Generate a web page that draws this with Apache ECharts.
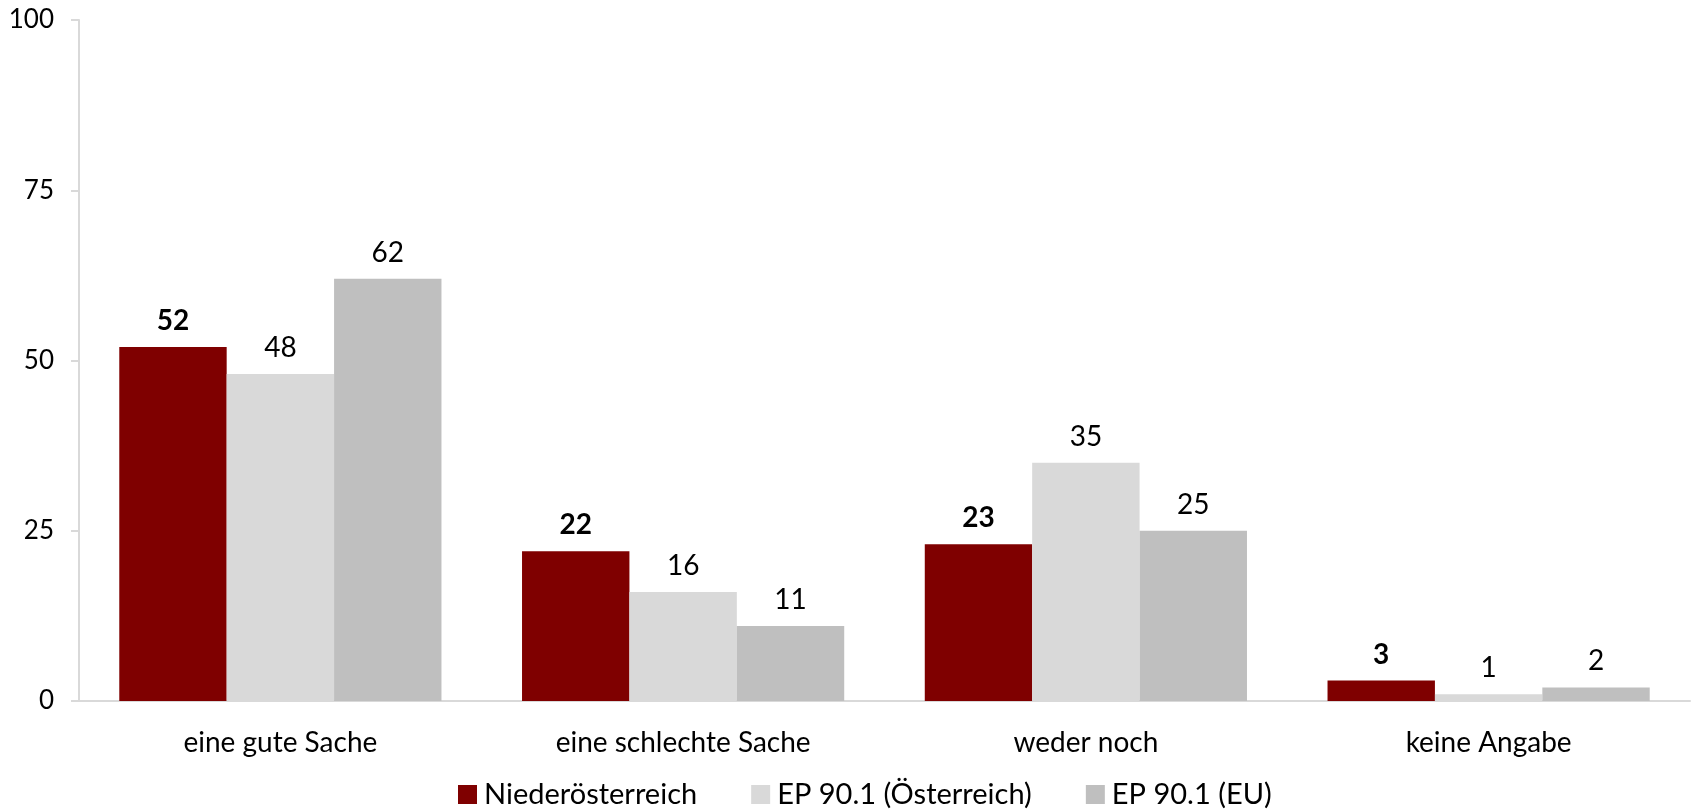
<!DOCTYPE html>
<html><head><meta charset="utf-8">
<script src="https://cdn.jsdelivr.net/npm/echarts@6/dist/echarts.min.js"></script>
<style>html,body{margin:0;padding:0;background:#fff}#c{width:1692px;height:810px}</style>
</head><body><div id="c"></div>
<script>
const categories = ['eine gute Sache', 'eine schlechte Sache', 'weder noch', 'keine Angabe'];
const seriesNames = ['Niederösterreich', 'EP 90.1 (Österreich)', 'EP 90.1 (EU)'];
const niederoesterreich = [52, 22, 23, 3];
const epOesterreich = [48, 16, 35, 1];
const epEU = [62, 11, 25, 2];
const yTicks = [0, 25, 50, 75, 100];

const FONT = 'Lato';
const colors = ['#7F0000', '#D9D9D9', '#BFBFBF'];
const chart = echarts.init(document.getElementById('c'));
function mk(name, data, color, bold) {
  return {
    name, type: 'bar', data, barGap: '0%', barCategoryGap: '20%',
    itemStyle: { color },
    label: { show: true, position: 'top', distance: 12, color: '#000',
      fontFamily: FONT, fontSize: 28, fontWeight: bold ? 'bold' : 'normal' }
  };
}
chart.setOption({
  animation: false,
  textStyle: { fontFamily: FONT },
  grid: { left: 79, right: 2, top: 20, bottom: 109, containLabel: false },
  legend: {
    top: 775, left: 453, itemWidth: 19, itemHeight: 19, itemGap: 54,
    icon: 'rect',
    textStyle: { fontFamily: FONT, fontSize: 29, color: '#000', padding: [0, 0, 0, 2] },
    data: seriesNames
  },
  xAxis: {
    type: 'category', data: categories,
    axisLine: { lineStyle: { color: '#D9D9D9', width: 2 } },
    axisTick: { show: false },
    axisLabel: { color: '#000', fontFamily: FONT, fontSize: 28, margin: 28 }
  },
  yAxis: {
    type: 'value', min: yTicks[0], max: yTicks[yTicks.length - 1], interval: 25,
    axisLine: { show: true, lineStyle: { color: '#D9D9D9', width: 2 } },
    axisTick: { show: true, length: 8, lineStyle: { color: '#D9D9D9', width: 2 } },
    splitLine: { show: false },
    axisLabel: { color: '#000', fontFamily: FONT, fontSize: 26, margin: 25 }
  },
  series: [
    mk(seriesNames[0], niederoesterreich, colors[0], true),
    mk(seriesNames[1], epOesterreich, colors[1], false),
    mk(seriesNames[2], epEU, colors[2], false)
  ]
});
</script></body></html>
